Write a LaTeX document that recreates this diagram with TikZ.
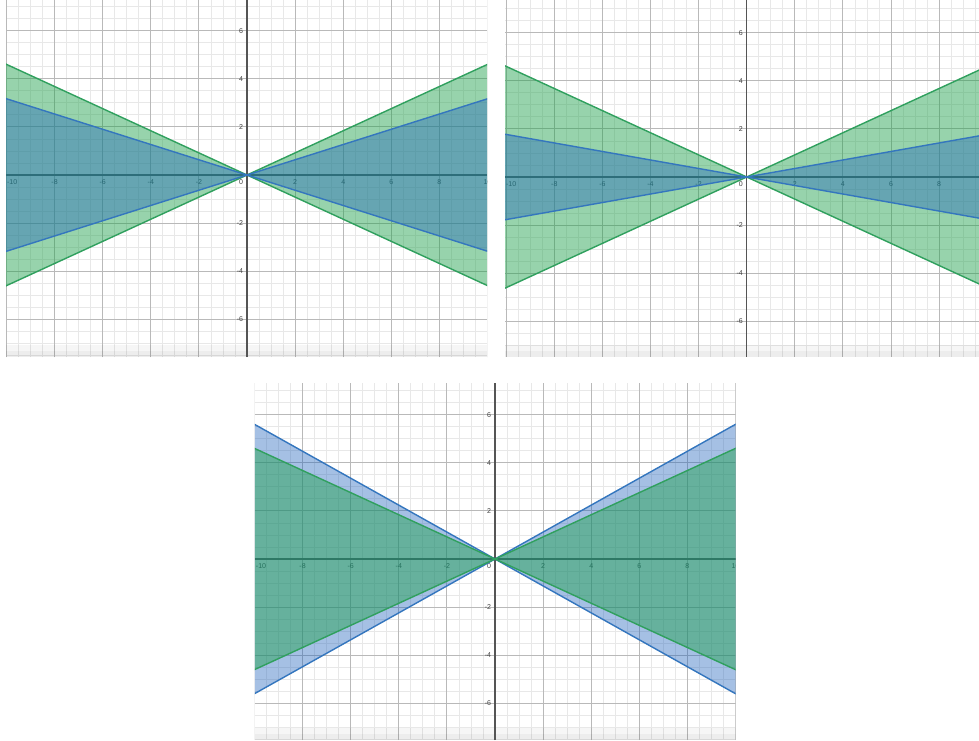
\documentclass[tikz,border=0pt]{standalone}
\usepackage{fontspec}
\setmainfont{Liberation Sans}
\usepackage{xcolor}
\usepackage{tikz}
\usetikzlibrary{positioning}
\tikzset{>=stealth}

\definecolor{wedgegreen}{RGB}{26,159,71}
\definecolor{wedgeblue}{RGB}{30,98,188}
\definecolor{greenline}{RGB}{48,160,94}
\definecolor{blueline}{RGB}{52,118,190}
\definecolor{minorgray}{RGB}{232,232,232}
\definecolor{majorgray}{RGB}{185,185,185}
\definecolor{axisgray}{RGB}{85,85,85}

% grid, axes and tick labels of one panel: #1 name prefix, #2 xmin, #3 xmax, #4 ymin, #5 ymax, #6 x labels
\newcommand{\plotgrid}[6]{%
	\clip (#2,#4) rectangle (#3,#5);
	\fill[white] (#2,#4) rectangle (#3,#5);
	\foreach \i in {-21,...,21} \draw[minorgrid] (\i/2,#4) -- (\i/2,#5);
	\foreach \i in {-16,...,16} \draw[minorgrid] (#2,\i/2) -- (#3,\i/2);
	\foreach \i in {-5,...,5} \draw[majorgrid] (2*\i,#4) -- (2*\i,#5);
	\foreach \i in {-4,...,4} \draw[majorgrid] (#2,2*\i) -- (#3,2*\i);
	\fill[bottomband] (#2,#4) rectangle (#3,#4+0.5);
	\fill[bottomband] (#2,#4) rectangle (#3,#4+0.25);
	\draw[axisline] (#2,0) -- (#3,0);
	\draw[axisline] (0,#4) -- (0,#5);
	\foreach \x [count=\k] in {#6}
		\node[ticklabel] (#1x\k) at (\x,-0.29) {\x};
	\node[ticklabel, anchor=west] (#1xmin) at (#2+0.03,-0.29) {-10};
	\node[ticklabel, anchor=east] (#1zero) at (-0.15,-0.29) {0};
	\foreach \y [count=\k] in {-6,-4,-2,2,4,6}
		\node[ticklabel, anchor=east] (#1y\k) at (-0.15,\y) {\y};
}
% the two opposite wedges between y=mx and y=-mx
\newcommand{\wedgefill}[2]{%
	\fill[#2] (-11,{11*#1}) -- (0,0) -- (-11,{-11*#1}) -- cycle
		(11,{11*#1}) -- (0,0) -- (11,{-11*#1}) -- cycle;
}
\newcommand{\wedgelines}[2]{%
	\draw[#2] (-11,{11*#1}) -- (11,{-11*#1});
	\draw[#2] (-11,{-11*#1}) -- (11,{11*#1});
}

\begin{document}
\begin{tikzpicture}[
	minorgrid/.style={draw=minorgray, line width=0.6pt},
	majorgrid/.style={draw=majorgray, line width=0.7pt},
	axisline/.style={draw=axisgray, line width=1pt},
	bottomband/.style={fill=black, fill opacity=0.035},
	ticklabel/.style={font=\fontsize{5}{6}\selectfont, text=black!75, inner sep=0pt},
	greenfill/.style={fill=wedgegreen, fill opacity=0.45},
	bluefill/.style={fill=wedgeblue, fill opacity=0.4},
	greenedge/.style={draw=greenline, line width=1pt},
	blueedge/.style={draw=blueline, line width=1pt}]
	\fill[white] (0,0) rectangle (24.475,-18.5);
	\useasboundingbox (0,0) rectangle (24.475,-18.5);

	% top left: blue wedge inside the green one
	\begin{scope}[shift={(6.175cm,-4.375cm)}, x=0.60125cm, y=0.60125cm]
		\plotgrid{a}{-10.02}{9.98}{-7.57}{7.28}{-8,-6,-4,-2,2,4,6,8,10}
		\wedgefill{0.46}{greenfill}
		\wedgefill{0.317}{bluefill}
		\wedgelines{0.46}{greenedge}
		\wedgelines{0.317}{blueedge}
	\end{scope}

	% top right: narrower blue wedge
	\begin{scope}[shift={(18.6675cm,-4.425cm)}, x=0.60125cm, y=0.60125cm]
		\plotgrid{b}{-10.05}{9.66}{-7.48}{7.36}{-8,-6,-4,-2,2,4,6,8}
		\wedgefill{0.46}{greenfill}
		\wedgefill{0.177}{bluefill}
		\wedgelines{0.46}{greenedge}
		\wedgelines{0.177}{blueedge}
	\end{scope}

	% bottom: blue wedge wider than the green one
	\begin{scope}[shift={(12.375cm,-13.975cm)}, x=0.60125cm, y=0.60125cm]
		\plotgrid{c}{-9.98}{10.0}{-7.53}{7.32}{-8,-6,-4,-2,2,4,6,8,10}
		\wedgefill{0.56}{bluefill}
		\wedgelines{0.56}{blueedge}
		\wedgefill{0.46}{greenfill}
		\wedgelines{0.46}{greenedge}
	\end{scope}
\end{tikzpicture}
\end{document}
